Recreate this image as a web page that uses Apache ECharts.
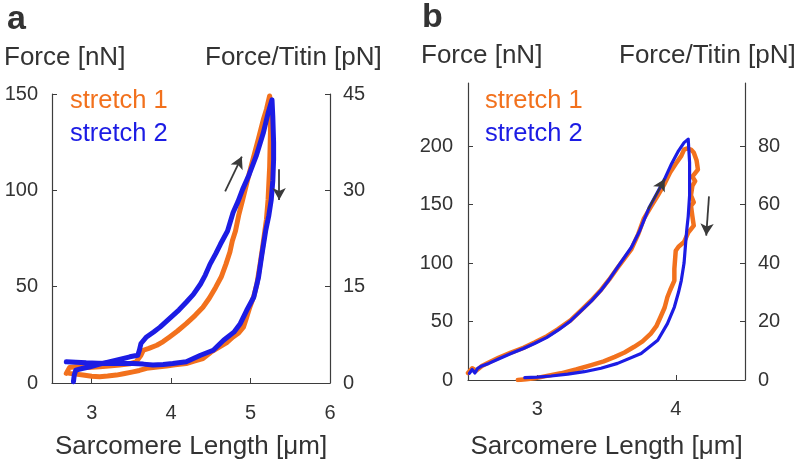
<!DOCTYPE html>
<html>
<head>
<meta charset="utf-8">
<script src="https://cdn.jsdelivr.net/npm/echarts@6/dist/echarts.min.js"></script>
<style>html,body{margin:0;padding:0;background:#fff;}#c{width:799px;height:465px;}</style>
</head>
<body>
<div id="c"></div>
<script>
// ---------- DATA ----------
const seriesNames = ['stretch 1', 'stretch 2'];

// Panel a: [sarcomere length (um), force (nN)]
const aStretch1 = [
  [2.68,5],[2.72,8],[2.80,8.4],[2.95,8],[3.10,8.4],[3.25,9],[3.35,9.3],[3.48,10],[3.56,11],[3.62,14.4],
  [3.65,17],[3.72,18],[3.82,19.6],[3.90,21.5],[3.98,23.9],[4.08,27],[4.19,30.8],[4.30,35],[4.40,39.3],
  [4.48,44],[4.56,49.6],[4.63,55],[4.69,61.7],[4.74,68],[4.77,73.7],[4.81,78.9],[4.85,87],[4.90,95],
  [4.96,105],[5.03,116],[5.10,127],[5.16,136.6],[5.20,142],[5.24,149],
  [5.25,146],[5.25,130],[5.24,112],[5.22,95],[5.20,85],[5.18,79],[5.15,70],[5.12,61.7],[5.08,51.4],
  [5.04,45],[4.99,39.3],[4.95,34],[4.91,29],[4.85,26],[4.78,23.9],[4.70,21],[4.61,18.7],[4.50,16],
  [4.40,12.7],[4.30,11.5],[4.19,10.1],[4.05,9.5],[3.94,8.8],[3.80,8.2],[3.69,7.6],[3.60,6.5],[3.52,5.8],
  [3.40,4.8],[3.31,4.1],[3.20,3.6],[3.10,3.3],[3.00,3.5],[2.89,4.1],[2.80,4.6],[2.72,5]
];
const aStretch2 = [
  [2.77,0.7],[2.78,4],[2.80,6.7],[2.88,7.5],[2.98,8.4],[3.10,9.8],[3.23,11],[3.35,12.2],[3.48,13.6],
  [3.58,14.4],[3.60,17],[3.62,20.5],[3.69,23.9],[3.78,26.5],[3.86,29],[3.94,32],[4.02,35],[4.10,38],
  [4.19,41.9],[4.28,46],[4.37,51.4],[4.43,56],[4.49,61.7],[4.56,67],[4.62,72],[4.71,78.9],[4.78,88.5],
  [4.84,94],[4.90,100.5],[4.98,108],[5.07,117.7],[5.16,129.7],[5.22,140],[5.27,147],
  [5.28,138],[5.29,125],[5.29,116],[5.28,105],[5.26,95],[5.23,87],[5.19,79],[5.14,66],[5.10,54.8],
  [5.04,44.5],[4.95,37.6],[4.87,30.8],[4.79,26.4],[4.66,22.2],[4.53,17],[4.37,14.4],[4.19,11],[4.02,10.1],
  [3.90,9.6],[3.77,9.3],[3.65,9.8],[3.52,10.1],[3.40,10.3],[3.23,10.1],[3.08,10.3],[2.93,10.5],[2.80,10.8],[2.68,11]
];

// Panel b
const bStretch1 = [
  [2.50,6],[2.53,10],[2.56,8],[2.60,12],[2.65,15],[2.72,19],[2.81,23.5],[2.90,27.5],[2.98,32],[3.07,37.5],
  [3.15,43.5],[3.24,51],[3.32,60],[3.39,68],[3.46,77],[3.52,86],[3.58,96],[3.63,104],[3.68,112],[3.73,125],
  [3.77,138],[3.82,148],[3.87,157.7],[3.92,168],[3.96,177.6],[4.00,185],[4.04,191.7],[4.06,197],[4.08,198],
  [4.11,197],[4.13,194.6],[4.15,188],[4.16,180],[4.12,174],[4.14,170],[4.12,166],[4.11,158],[4.13,152],
  [4.11,149],[4.12,140],[4.13,132],[4.09,126],[4.06,118],[4.02,114],[4.00,110.6],[3.99,95],[3.99,85],
  [3.96,77],[3.94,71],[3.92,62],[3.89,53.9],[3.86,46],[3.82,39.7],[3.76,33],[3.70,28.4],[3.63,23.5],
  [3.56,19.8],[3.48,16],[3.39,12.8],[3.28,9],[3.17,5.7],[3.07,3.5],[2.98,1.4],[2.92,0.6],[2.86,0]
];
const bStretch2 = [
  [2.51,5.7],[2.53,9],[2.55,6],[2.57,10],[2.60,12],[2.65,14.2],[2.72,18],[2.81,22.7],[2.90,27],[2.98,31.2],
  [3.07,36.5],[3.15,42.6],[3.24,50.5],[3.32,59.6],[3.39,67.5],[3.46,76.6],[3.52,86],[3.58,96.5],[3.63,105],
  [3.68,113.5],[3.74,127.7],[3.81,148],[3.87,161],[3.92,172],[3.97,185],[4.02,196],[4.06,203],[4.09,206],
  [4.10,186],[4.10,158],[4.09,140],[4.08,129],[4.07,115],[4.06,100],[4.04,85],[4.02,75],[3.99,62.4],
  [3.94,48.2],[3.87,34],[3.75,22.7],[3.58,14.2],[3.46,10],[3.34,7.1],[3.22,5],[3.10,3.4],[3.00,2.5],[2.91,2]
];

// Axis ranges and tick labels
const aXRange = [2.5, 6];     const aXTicks = [3, 4, 5, 6];
const aYRange = [0, 150];     const aYTicks = [0, 50, 100, 150];
const aY2Range = [0, 45];     const aY2Ticks = [0, 15, 30, 45];
const bXRange = [2.5, 4.5];   const bXTicks = [3, 4];
const bYRange = [0, 254];     const bYTicks = [0, 50, 100, 150, 200];
const bY2Range = [0, 101.6];  const bY2Ticks = [0, 20, 40, 60, 80];

// Annotation arrows [[x1,y1],[x2,y2]] (tail -> head)
const aArrows = [[[4.68, 99.5], [4.89, 117.5]], [[5.36, 111], [5.36, 95]]];
const bArrows = [[[3.80, 146], [3.92, 172]], [[4.24, 157], [4.22, 123.5]]];

// Texts
const panelLabels = ['a', 'b'];
const leftYName = 'Force [nN]';
const rightYName = 'Force/Titin [pN]';
const xName = 'Sarcomere Length [μm]';

// ---------- STYLE ----------
const ORANGE = '#f2711d';
const BLUE = '#1c1ce4';
const AXIS = '#3d3d3d';
const TEXT = '#333333';
const FONT = "'Liberation Sans', Arial, Helvetica, sans-serif";

const chart = echarts.init(document.getElementById('c'), null, {renderer: 'canvas'});

function xAxisCfg(grid, range, ticks, gap, margin) {
  return {
    type: 'value', gridIndex: grid, min: range[0], max: range[1],
    name: xName, nameLocation: 'middle', nameGap: gap,
    nameTextStyle: {fontSize: 26, color: TEXT, fontFamily: FONT},
    axisLine: {show: true, lineStyle: {color: AXIS, width: 1.2}},
    axisTick: {show: true, inside: true, length: 5, customValues: ticks, lineStyle: {color: AXIS}},
    axisLabel: {customValues: ticks, fontSize: 20, color: TEXT, fontFamily: FONT, margin: margin},
    splitLine: {show: false}
  };
}
function yAxisCfg(grid, pos, range, ticks, margin) {
  return {
    type: 'value', gridIndex: grid, position: pos, min: range[0], max: range[1],
    axisLine: {show: true, onZero: false, lineStyle: {color: AXIS, width: 1.2}},
    axisTick: {show: true, inside: true, length: 5, customValues: ticks, lineStyle: {color: AXIS}},
    axisLabel: {customValues: ticks, fontSize: 20, color: TEXT, fontFamily: FONT, margin: margin},
    splitLine: {show: false}
  };
}
function lineSeries(name, data, xi, yi, color, width, z) {
  return {
    name: name, type: 'line', xAxisIndex: xi, yAxisIndex: yi, data: data,
    showSymbol: false, symbol: 'none', smooth: false, clip: true, z: z,
    lineStyle: {color: color, width: width, join: 'round', cap: 'round'},
    itemStyle: {color: color},
    emphasis: {disabled: true}
  };
}
function arrowSeries(arrows, xi, yi) {
  return {
    name: 'arrows', type: 'line', xAxisIndex: xi, yAxisIndex: yi, data: [], z: 10,
    markLine: {
      silent: true, animation: false,
      symbol: ['none', 'arrow'], symbolSize: [10, 12],
      lineStyle: {color: '#3a3a3a', width: 1.8, type: 'solid'},
      label: {show: false},
      data: arrows.map(a => [{coord: a[0]}, {coord: a[1]}])
    }
  };
}
function legendCfg(left, top) {
  return {
    orient: 'vertical', left: left, top: top, padding: 0, itemGap: 3,
    icon: 'none', itemWidth: 0, itemHeight: 0, selectedMode: false,
    textStyle: {fontSize: 25.5, fontFamily: FONT, lineHeight: 30},
    data: [
      {name: seriesNames[0], textStyle: {color: ORANGE}},
      {name: seriesNames[1], textStyle: {color: BLUE}}
    ]
  };
}
function txt(x, y, s, size, weight) {
  return {
    type: 'text', x: x, y: y, silent: true,
    style: {text: s, fill: TEXT, font: (weight || 'normal') + ' ' + size + 'px ' + FONT,
            textVerticalAlign: 'middle', verticalAlign: 'middle', textAlign: 'left', align: 'left'}
  };
}

chart.setOption({
  animation: false,
  backgroundColor: '#ffffff',
  grid: [
    {left: 52, top: 94, width: 278, height: 291},
    {left: 468, top: 83, width: 277, height: 299}
  ],
  xAxis: [
    xAxisCfg(0, aXRange, aXTicks, 51, 20),
    xAxisCfg(1, bXRange, bXTicks, 54, 19)
  ],
  yAxis: [
    yAxisCfg(0, 'left', aYRange, aYTicks, 14),
    yAxisCfg(0, 'right', aY2Range, aY2Ticks, 13),
    yAxisCfg(1, 'left', bYRange, bYTicks, 15),
    yAxisCfg(1, 'right', bY2Range, bY2Ticks, 13)
  ],
  legend: [legendCfg(65, 86), legendCfg(480, 86)],
  series: [
    lineSeries(seriesNames[0], aStretch1, 0, 0, ORANGE, 5, 2),
    lineSeries(seriesNames[1], aStretch2, 0, 0, BLUE, 5, 3),
    lineSeries(seriesNames[0], bStretch1, 1, 2, ORANGE, 4.5, 2),
    lineSeries(seriesNames[1], bStretch2, 1, 2, BLUE, 3.2, 3),
    arrowSeries(aArrows, 0, 0),
    arrowSeries(bArrows, 1, 2)
  ],
  graphic: [
    txt(7, 20, panelLabels[0], 34, 'bold'),
    txt(422, 18, panelLabels[1], 34, 'bold'),
    txt(4, 58, leftYName, 26),
    txt(205, 58, rightYName, 26),
    txt(421, 56, leftYName, 26),
    txt(619, 56, rightYName, 26)
  ]
});
</script>
</body>
</html>
